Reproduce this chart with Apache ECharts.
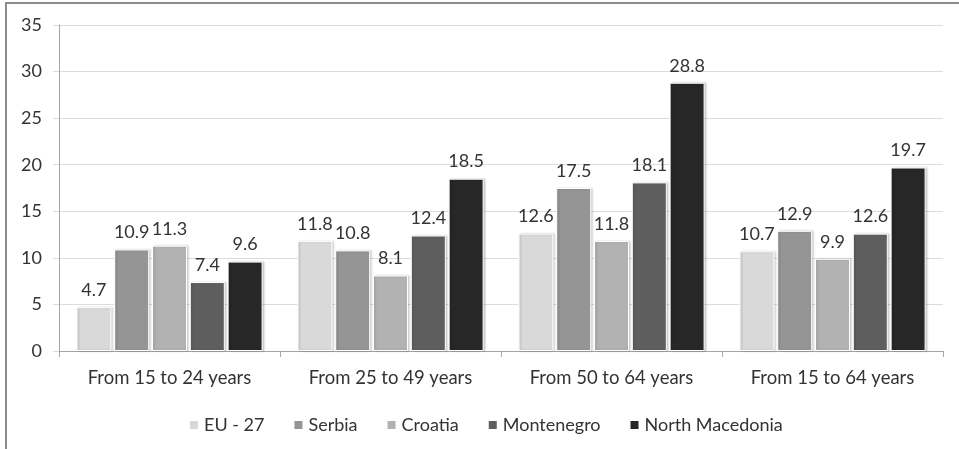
<!DOCTYPE html>
<html>
<head>
<meta charset="utf-8">
<script src="https://cdn.jsdelivr.net/npm/echarts@6/dist/echarts.min.js"></script>
<style>
  html, body { margin: 0; padding: 0; background: #fff; }
  #frame { position: absolute; left: 0; top: 0; width: 959px; height: 449px; }
  #chart { width: 959px; height: 449px; }
  .edge-top { position: absolute; left: 5px; top: 2px; width: 954px; height: 2px; background: #8c8c8c; }
  .edge-left { position: absolute; left: 5px; top: 2px; width: 2px; height: 447px; background: #8c8c8c; }
</style>
</head>
<body>
<div id="frame">
  <div id="chart"></div>
  <div class="edge-top"></div>
  <div class="edge-left"></div>
</div>
<script>
// Age groups on the category axis
const categories = ['From 15 to 24 years', 'From 25 to 49 years', 'From 50 to 64 years', 'From 15 to 64 years'];

// Values per country, one entry per age group
const eu27 = [4.7, 11.8, 12.6, 10.7];
const serbia = [10.9, 10.8, 17.5, 12.9];
const croatia = [11.3, 8.1, 11.8, 9.9];
const montenegro = [7.4, 12.4, 18.1, 12.6];
const northMacedonia = [9.6, 18.5, 28.8, 19.7];

const seriesNames = ['EU - 27', 'Serbia', 'Croatia', 'Montenegro', 'North Macedonia'];
const seriesData = [eu27, serbia, croatia, montenegro, northMacedonia];
const seriesColors = ['#d9d9d9', '#959595', '#b2b2b2', '#5e5e5e', '#272727'];

const fontFamily = 'Lato, "Open Sans", sans-serif';

const chart = echarts.init(document.getElementById('chart'), null, { renderer: 'canvas' });

chart.setOption({
  animation: false,
  backgroundColor: '#fff',
  textStyle: { fontFamily: fontFamily },
  grid: { left: 59, right: 16, top: 25, bottom: 98, containLabel: false },
  legend: {
    data: seriesNames,
    left: 183,
    top: 411,
    itemWidth: 10,
    itemHeight: 10,
    itemGap: 28,
    icon: 'rect',
    textStyle: { fontSize: 18, color: '#333', fontFamily: fontFamily }
  },
  xAxis: {
    type: 'category',
    data: categories,
    axisLine: { lineStyle: { color: '#a6a6a6', width: 1 } },
    axisTick: { show: true, length: 6, alignWithLabel: false, lineStyle: { color: '#a6a6a6' } },
    axisLabel: { fontSize: 18.5, color: '#333', margin: 18, fontFamily: fontFamily }
  },
  yAxis: {
    type: 'value',
    min: 0,
    max: 35,
    interval: 5,
    axisLine: { show: true, lineStyle: { color: '#a6a6a6', width: 1 } },
    axisTick: { show: true, length: 6, lineStyle: { color: '#dcdcdc' } },
    axisLabel: { fontSize: 18, color: '#333', margin: 17, fontFamily: fontFamily },
    splitLine: { lineStyle: { color: '#dcdcdc', width: 1 } }
  },
  series: seriesNames.map((name, i) => ({
    name: name,
    type: 'bar',
    data: seriesData[i],
    barWidth: 35,
    barGap: '8%',
    itemStyle: {
      color: seriesColors[i],
      borderColor: '#ffffff',
      borderWidth: 1,
      shadowColor: 'rgba(0,0,0,0.18)',
      shadowBlur: 2,
      shadowOffsetX: 1.5,
      shadowOffsetY: 0
    },
    label: {
      show: true,
      position: 'top',
      distance: 8,
      fontSize: 18,
      color: '#333',
      fontFamily: fontFamily,
      formatter: p => p.value.toFixed(1)
    }
  }))
});
</script>
</body>
</html>
